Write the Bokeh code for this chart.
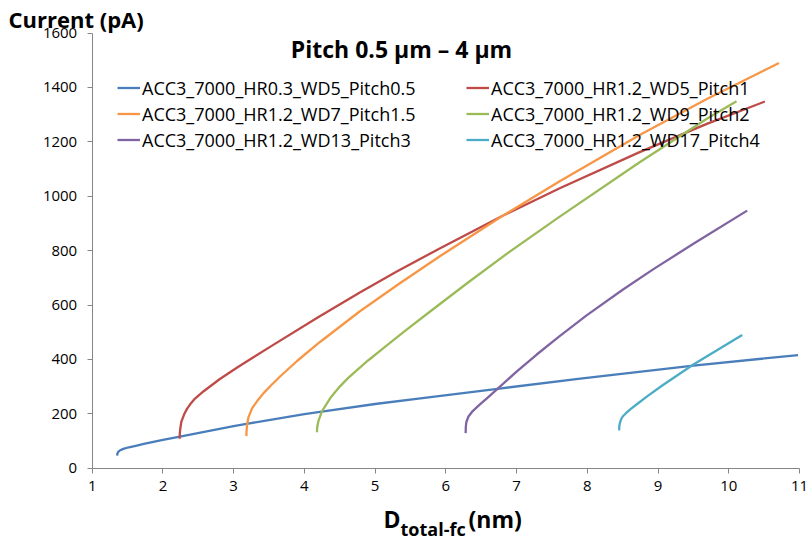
from bokeh.plotting import figure
from bokeh.models import Range1d, FixedTicker, Legend, LegendItem, Label
from bokeh.embed import file_html
from bokeh.resources import INLINE

FONT = "Open Sans"

# ---- data ----
series_names = [
    "ACC3_7000_HR0.3_WD5_Pitch0.5",
    "ACC3_7000_HR1.2_WD5_Pitch1",
    "ACC3_7000_HR1.2_WD7_Pitch1.5",
    "ACC3_7000_HR1.2_WD9_Pitch2",
    "ACC3_7000_HR1.2_WD13_Pitch3",
    "ACC3_7000_HR1.2_WD17_Pitch4",
]

pitch05_x = [1.353, 1.356, 1.365, 1.39, 1.44, 1.52, 1.63, 1.73, 2.0, 2.24, 3.0, 3.18, 4.0, 4.32, 5.0, 5.64, 6.73, 7.9, 9.5, 10.98]
pitch05_y = [46, 53, 59, 65, 71, 77, 83, 89, 104, 116, 155, 163, 199, 211, 236, 257, 292, 329, 377, 416]

pitch1_x = [2.237, 2.238, 2.245, 2.26, 2.30, 2.34, 2.40, 2.45, 2.576, 2.8, 3.05, 3.52, 4.2, 4.79, 5.3, 5.92, 6.81, 7.61, 8.74, 9.69, 10.51]
pitch1_y = [108, 125, 145, 170, 198, 218, 240, 255, 283, 327, 370, 447, 556, 647, 722, 809, 929, 1029, 1162, 1266, 1348]

pitch15_x = [3.18, 3.182, 3.19, 3.21, 3.26, 3.33, 3.42, 3.53, 3.66, 3.9, 4.225, 4.79, 5.35, 5.92, 6.81, 7.61, 8.74, 9.69, 10.71]
pitch15_y = [118, 135, 160, 188, 220, 246, 275, 305, 338, 395, 465, 578, 680, 780, 929, 1055, 1225, 1357, 1490]

pitch2_x = [4.178, 4.18, 4.20, 4.25, 4.366, 4.5, 4.62, 4.74, 4.9, 5.1, 5.40, 5.778, 6.3, 6.86, 7.61, 8.74, 9.69, 10.11]
pitch2_y = [132, 150, 175, 210, 258, 300, 332, 360, 396, 438, 500, 576, 680, 788, 925, 1125, 1285, 1349]

pitch3_x = [6.28, 6.282, 6.29, 6.32, 6.38, 6.47, 6.58, 6.73, 7.0, 7.285, 7.6, 7.99, 8.5, 8.93, 9.5, 10.26]
pitch3_y = [129, 150, 170, 190, 210, 232, 257, 292, 355, 418, 484, 562, 656, 731, 825, 947]

pitch4_x = [8.45, 8.452, 8.46, 8.475, 8.50, 8.55, 8.62, 8.70, 8.85, 9.07, 9.50, 10.19]
pitch4_y = [139, 153, 166, 178, 190, 203, 219, 235, 265, 306, 381, 490]

x_ticks = [1, 2, 3, 4, 5, 6, 7, 8, 9, 10, 11]
y_ticks = [0, 200, 400, 600, 800, 1000, 1200, 1400, 1600]

colors = ["#4A7EBB", "#BE4B48", "#F79646", "#9BBB59", "#8064A2", "#4BACC6"]

xs = [pitch05_x, pitch1_x, pitch15_x, pitch2_x, pitch3_x, pitch4_x]
ys = [pitch05_y, pitch1_y, pitch15_y, pitch2_y, pitch3_y, pitch4_y]

W, H = 810, 540
# plot area in the reference: x 1..11 -> px 91.7..799, y 0..1600 -> px 467.7..32.5
PX_L, PX_R, PY_B, PY_T = 91.7, 799.0, 467.7, 32.5
sx = (PX_R - PX_L) / (x_ticks[-1] - x_ticks[0])
sy = (PY_B - PY_T) / (y_ticks[-1] - y_ticks[0])
x_range = Range1d(x_ticks[0] - PX_L / sx, x_ticks[-1] + (W - PX_R) / sx)
y_range = Range1d(y_ticks[0] - (H - PY_B) / sy, y_ticks[-1] + PY_T / sy)

p = figure(width=W, height=H, output_backend="svg", toolbar_location=None,
           x_range=x_range, y_range=y_range,
           min_border_left=0, min_border_right=0, min_border_top=0, min_border_bottom=0)
p.outline_line_color = None
p.xgrid.visible = False
p.ygrid.visible = False
p.background_fill_color = "white"
p.border_fill_color = "white"

p.xaxis.fixed_location = y_ticks[0]
p.yaxis.fixed_location = x_ticks[0]
p.xaxis.bounds = (x_ticks[0], x_ticks[-1])
p.yaxis.bounds = (y_ticks[0], y_ticks[-1])

for ax, ticks in ((p.xaxis[0], x_ticks), (p.yaxis[0], y_ticks)):
    ax.ticker = FixedTicker(ticks=ticks)
    ax.axis_line_color = "#868686"
    ax.axis_line_width = 1
    ax.major_tick_line_color = "#868686"
    ax.major_tick_out = 5
    ax.major_tick_in = 0
    ax.minor_tick_line_color = None
    ax.major_label_text_font = FONT
    ax.major_label_text_font_size = "15px"
    ax.major_label_text_color = "#000000"
p.yaxis[0].major_label_standoff = 10
p.xaxis[0].major_label_standoff = 8

renderers = []
for x, y, c in zip(xs, ys, colors):
    r = p.line(x, y, line_color=c, line_width=2.3, line_join="round")
    renderers.append(r)

def make_legend(idx, loc):
    items = [LegendItem(label=series_names[i], renderers=[renderers[i]]) for i in idx]
    lg = Legend(items=items, location=loc, padding=0, margin=0, spacing=1,
                glyph_width=23, glyph_height=25, label_height=25, label_standoff=2,
                border_line_color=None, background_fill_alpha=0,
                label_text_font=FONT, label_text_font_size="18px", label_text_color="#000000")
    p.add_layout(lg, "center")

# screen coords: from canvas bottom-left
make_legend([0, 2, 4], (117, 388))
make_legend([1, 3, 5], (466, 388))

def lab(text, x, y, size, align="left", baseline="middle"):
    p.add_layout(Label(x=x, y=y, x_units="screen", y_units="screen", text=text,
                       text_font=FONT, text_font_size=size, text_font_style="bold",
                       text_align=align, text_baseline=baseline, text_color="#000000"))

lab("Pitch 0.5 \u00b5m \u2013 4 \u00b5m", 401, H - 48, "23px", align="center")
lab("Current (pA)", 8, H - 18, "22px")
lab("D", 383, H - 518, "23px")
lab("total-fc", 400, H - 528, "18px")
lab("(nm)", 468, H - 518, "23px")

open("out.html", "w").write(file_html(p, INLINE))
